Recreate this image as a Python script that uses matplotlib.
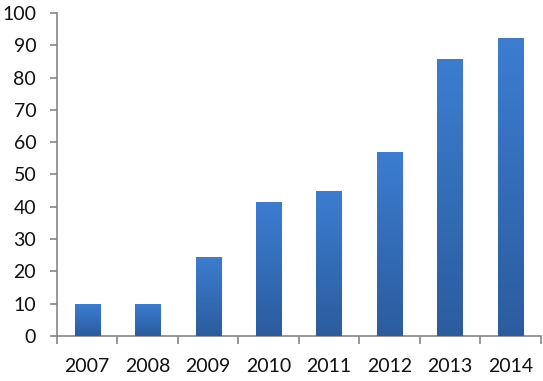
import numpy as np
import matplotlib

matplotlib.use("Agg")
import matplotlib.pyplot as plt  # noqa: E402
from matplotlib.colors import LinearSegmentedColormap  # noqa: E402

years = ["2007", "2008", "2009", "2010", "2011", "2012", "2013", "2014"]
values = [9.8, 10.0, 24.6, 41.4, 44.9, 57.1, 85.6, 92.3]

AXIS = "#868686"
TOP = "#3c7dd1"
BOTTOM = "#2b5c9e"

plt.rcParams["font.family"] = ["Lato", "DejaVu Sans"]

fig = plt.figure(figsize=(5.43, 3.81), dpi=100, facecolor="white")
ax = fig.add_axes([0.105, 0.118, 0.891, 0.848])

x = np.arange(len(years))
bars = ax.bar(x, values, width=0.42, color=BOTTOM, edgecolor="none", zorder=2)

# vertical gradient, lighter at the top like the Excel fill
grad = LinearSegmentedColormap.from_list("g", [BOTTOM, TOP])
g = np.linspace(0, 1, 256).reshape(-1, 1)
for b in bars:
    im = ax.imshow(g, cmap=grad, origin="lower", aspect="auto", zorder=3,
                   extent=[b.get_x(), b.get_x() + b.get_width(), 0, b.get_height()])
    im.set_clip_path(b)

ax.set_xlim(-0.5, len(years) - 0.5)
ax.set_ylim(0, 100)
ax.set_yticks(range(0, 101, 10))
ax.set_xticks(x)
ax.set_xticklabels(years)
ax.set_xticks(np.arange(-0.5, len(years)), minor=True)

for s in ["top", "right"]:
    ax.spines[s].set_visible(False)
for s in ["left", "bottom"]:
    ax.spines[s].set_color(AXIS)
    ax.spines[s].set_linewidth(1.2)

ax.tick_params(axis="y", length=5, width=1.2, color=AXIS, pad=10,
               labelsize=14, labelcolor="#111111")
ax.tick_params(axis="x", which="major", length=0, pad=16,
               labelsize=14, labelcolor="#111111")
ax.tick_params(axis="x", which="minor", length=6, width=1.2, color=AXIS)

fig.savefig("out.png", dpi=100, facecolor="white")
plt.close(fig)
